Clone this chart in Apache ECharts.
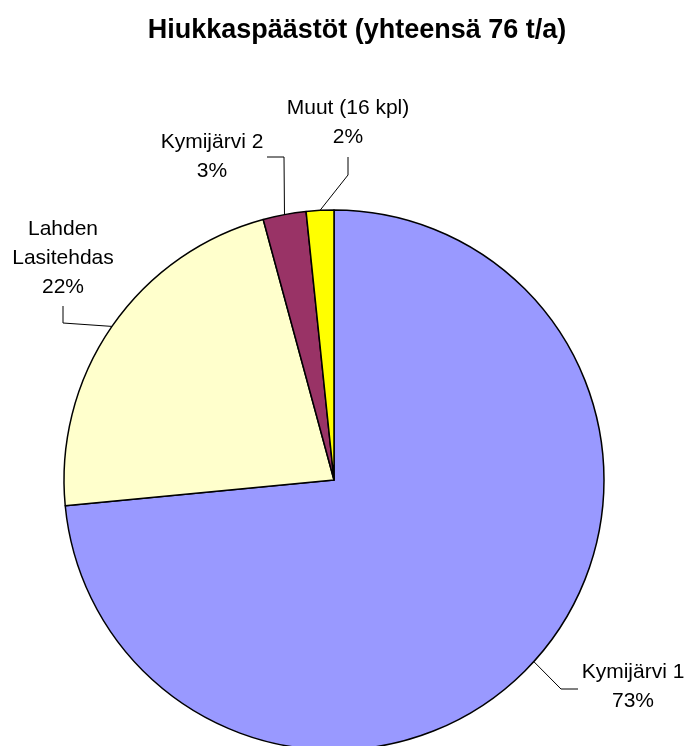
<!DOCTYPE html>
<html>
<head>
<meta charset="utf-8">
<script src="https://cdn.jsdelivr.net/npm/echarts@6/dist/echarts.min.js"></script>
<style>
  html, body { margin: 0; padding: 0; background: #fff; }
  #chart { width: 688px; height: 746px; }
</style>
</head>
<body>
<div id="chart"></div>
<script>
// data (t/a)
const names = ['Kymijärvi 1', 'Lahden\nLasitehdas', 'Kymijärvi 2', 'Muut (16 kpl)']
const values = [55.7, 16.9, 1.95, 1.25]
const colors = ['#9999FF', '#FFFFCC', '#993366', '#FFFF00']
const titleText = 'Hiukkaspäästöt (yhteensä 76 t/a)'

const font = 'Arial, "Liberation Sans", sans-serif'

// label placement per slice: text centre and the leader-line elbow
const labelSpots = [
  { x: 633, y: 687, elbow: [561, 689], end: [578, 689] },
  { x: 63, y: 258, elbow: [63, 323], end: [63, 306] },
  { x: 212, y: 157, elbow: [284, 157], end: [267, 157] },
  { x: 348, y: 123, elbow: [348, 175], end: [348, 157] },
]

const chart = echarts.init(document.getElementById('chart'))

chart.setOption({
  animation: false,
  title: {
    text: titleText,
    left: 352,
    top: 12,
    textAlign: 'center',
    textStyle: {
      fontFamily: font,
      fontSize: 27,
      fontWeight: 'bold',
      color: '#000',
    },
  },
  series: [
    {
      type: 'pie',
      center: [334, 480],
      radius: 270,
      startAngle: 90,
      clockwise: true,
      data: names.map((n, i) => ({
        name: n,
        value: values[i],
        itemStyle: { color: colors[i] },
      })),
      itemStyle: { borderColor: '#000', borderWidth: 1.5 },
      label: {
        show: true,
        position: 'outside',
        formatter: (p) => p.name + '\n' + Math.round(p.percent) + '%',
        fontFamily: font,
        fontSize: 21,
        lineHeight: 29,
        color: '#000',
        align: 'center',
        overflow: 'none',
      },
      labelLine: {
        show: true,
        lineStyle: { color: '#000', width: 1 },
      },
      labelLayout: (params) => {
        const s = labelSpots[params.dataIndex]
        const start = params.labelLinePoints ? params.labelLinePoints[0] : s.elbow
        return {
          x: s.x,
          y: s.y,
          align: 'center',
          verticalAlign: 'middle',
          labelLinePoints: [start, s.elbow, s.end],
        }
      },
      emphasis: { disabled: true },
    },
  ],
})
</script>
</body>
</html>
